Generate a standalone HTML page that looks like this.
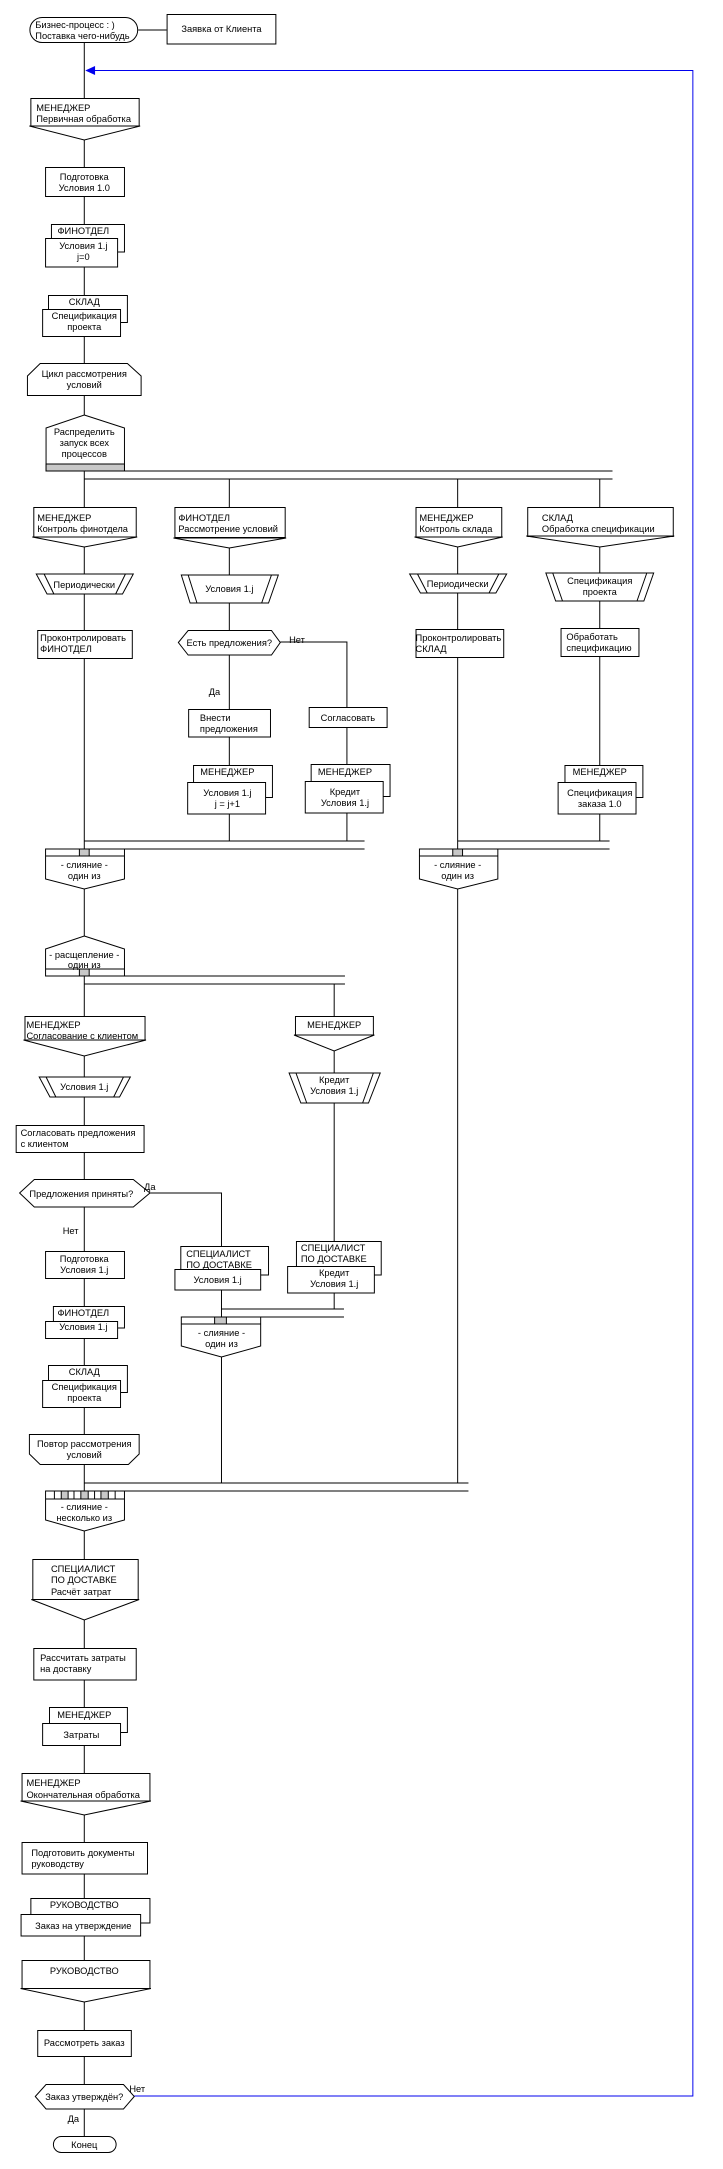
<!DOCTYPE html>
<html><head><meta charset="utf-8"><style>
html,body{margin:0;padding:0;background:#fff}
svg{display:block}
text{font-family:"Liberation Sans","DejaVu Sans",sans-serif;font-size:9.5px;fill:#000}
</style></head><body>
<svg width="723" height="2169" viewBox="0 0 723 2169" xmlns="http://www.w3.org/2000/svg">
<g transform="scale(0.98,1)">
<g stroke="#000" stroke-width="1" fill="none">
<line x1="86" y1="43" x2="86" y2="2136"/>
<line x1="141" y1="30" x2="170" y2="30"/>
<line x1="234" y1="479" x2="234" y2="841"/>
<polyline points="286,642 354,642 354,841"/>
<line x1="467" y1="479" x2="467" y2="1483"/>
<line x1="612" y1="479" x2="612" y2="841"/>
<line x1="341" y1="984" x2="341" y2="1309"/>
<polyline points="153,1193 226,1193 226,1483"/>
<line x1="47" y1="471" x2="625" y2="471"/>
<line x1="86" y1="479" x2="625" y2="479"/>
<line x1="86" y1="841" x2="372" y2="841"/>
<line x1="47" y1="849" x2="372" y2="849"/>
<line x1="467" y1="841" x2="622" y2="841"/>
<line x1="428" y1="849" x2="622" y2="849"/>
<line x1="47" y1="976" x2="352" y2="976"/>
<line x1="86" y1="984" x2="352" y2="984"/>
<line x1="226" y1="1309" x2="351" y2="1309"/>
<line x1="185" y1="1317" x2="351" y2="1317"/>
<line x1="86" y1="1483" x2="478" y2="1483"/>
<line x1="47" y1="1491" x2="478" y2="1491"/>
</g>
<g stroke="#0000ee" stroke-width="1" fill="none">
<polyline points="137,2096 707,2096 707,70.5 90,70.5"/>
</g>
<polygon points="87,70.5 97,66 97,75" fill="#0000ee"/>

<g stroke="#000" stroke-width="1" fill="#fff">
<rect x="30.5" y="17.5" width="110" height="25" rx="12.5"/>
<rect x="170.5" y="14.5" width="111" height="29.5"/>
<rect x="31.5" y="98.5" width="110.5" height="27.5"/>
<polygon points="30,126 143,126 86,140" />
<rect x="46.5" y="167.5" width="80.5" height="29"/>
<rect x="52.5" y="224.5" width="74.5" height="27.5"/>
<rect x="46.5" y="238.5" width="73.5" height="28.5"/>
<rect x="49.5" y="295.5" width="80.5" height="27"/>
<rect x="43.5" y="309.5" width="79.5" height="27"/>
<polygon points="41,363.5 130,363.5 144,376 144,395.5 28,395.5 28,376"/>
<polygon points="86,415 127,428 127,471 47,471 47,428"/>
<rect x="47" y="464" width="80" height="7" fill="#c8c8c8"/>
<rect x="34.5" y="507.5" width="104.5" height="29.5"/>
<polygon points="33,537 140,537 86,547"/>
<rect x="178.5" y="507.5" width="112.5" height="30"/>
<polygon points="177,538 292,538 234,548"/>
<rect x="424.5" y="507.5" width="87.5" height="29.5"/>
<polygon points="423,537 513,537 467,547"/>
<rect x="538.5" y="507.5" width="148.5" height="29"/>
<polygon points="537,536 688,536 612,547"/>
<polygon points="37,574 136,574 125,594 48,594"/>
<polygon points="185,575 284,575 274,603 194,603"/>
<polygon points="418,574 517,574 506,593 429,593"/>
<polygon points="557,573 667,573 657,601 567,601"/>
<rect x="38.5" y="630.5" width="96.5" height="28"/>
<polygon points="182,642.5 192,630.5 277,630.5 286,642.5 277,655 192,655"/>
<rect x="424.5" y="629.5" width="89.5" height="28"/>
<rect x="572.5" y="628.5" width="79.5" height="28"/>
<rect x="192.5" y="709.5" width="83.5" height="27.5"/>
<rect x="315.5" y="707.5" width="79.5" height="20"/>
<rect x="197.5" y="765.5" width="80.5" height="32"/>
<rect x="191.5" y="782.5" width="79.5" height="31.5"/>
<rect x="317.5" y="764.5" width="80.5" height="32"/>
<rect x="311.5" y="781.5" width="79.5" height="31.5"/>
<rect x="576.5" y="765.5" width="79.5" height="32"/>
<rect x="569.5" y="782.5" width="79.5" height="31.5"/>
<polygon points="46.5,849 127,849 127,879 86,889 46.5,879"/>
<line x1="46.5" y1="856" x2="127" y2="856"/>
<rect x="81" y="849" width="10" height="7" fill="#c8c8c8"/>
<polygon points="428,849 508,849 508,879 467,889 428,879"/>
<line x1="428" y1="856" x2="508" y2="856"/>
<rect x="462" y="849" width="10" height="7" fill="#c8c8c8"/>
<polygon points="86,936 127,949 127,976 46.5,976 46.5,949"/>
<line x1="46.5" y1="969" x2="127" y2="969"/>
<rect x="81" y="969" width="10" height="7" fill="#c8c8c8"/>
<rect x="25.5" y="1016.5" width="122.5" height="23.5"/>
<polygon points="24,1040 149,1040 86,1056"/>
<rect x="301.5" y="1016.5" width="79.5" height="18.5"/>
<polygon points="300,1035 382,1035 341,1051"/>
<polygon points="40,1077 133,1077 122,1097 51,1097"/>
<polygon points="295,1073 388,1073 376,1103 307,1103"/>
<rect x="16.5" y="1125.5" width="130.5" height="27"/>
<polygon points="20,1193 35,1179.5 136,1179.5 153,1193 136,1207 35,1207"/>
<rect x="46.5" y="1251.5" width="80.5" height="27"/>
<rect x="184.5" y="1246.5" width="89.5" height="28.5"/>
<rect x="178.5" y="1269.5" width="87.5" height="20.5"/>
<rect x="302.5" y="1241.5" width="86.5" height="33.5"/>
<rect x="293.5" y="1266.5" width="88.5" height="26.5"/>
<polygon points="185,1317 266,1317 266,1346 226,1357 185,1346"/>
<line x1="185" y1="1324" x2="266" y2="1324"/>
<rect x="219" y="1317" width="12" height="7" fill="#c8c8c8"/>
<rect x="54.5" y="1306.5" width="72.5" height="21.5"/>
<rect x="46.5" y="1321.5" width="73.5" height="17"/>
<rect x="49.5" y="1365.5" width="80.5" height="27"/>
<rect x="43.5" y="1380.5" width="79.5" height="27"/>
<polygon points="30,1434.5 142,1434.5 142,1454 131,1464.5 41,1464.5 30,1454"/>
<polygon points="46.5,1491 127,1491 127,1520 86,1531 46.5,1520"/>
<line x1="46.5" y1="1499" x2="127" y2="1499"/>
<rect x="62.5" y="1491" width="7" height="8" fill="#c8c8c8"/>
<rect x="82.5" y="1491" width="7.5" height="8" fill="#c8c8c8"/>
<rect x="103" y="1491" width="7.5" height="8" fill="#c8c8c8"/>
<line x1="55.5" y1="1491" x2="55.5" y2="1499"/>
<line x1="75.5" y1="1491" x2="75.5" y2="1499"/>
<line x1="96.5" y1="1491" x2="96.5" y2="1499"/>
<line x1="117.5" y1="1491" x2="117.5" y2="1499"/>
<rect x="33.5" y="1559.5" width="107.5" height="40"/>
<polygon points="32,1599.5 142,1599.5 86,1620"/>
<rect x="34.5" y="1648.5" width="104.5" height="31.5"/>
<rect x="50.5" y="1707.5" width="79.5" height="25"/>
<rect x="43.5" y="1723.5" width="79.5" height="22"/>
<rect x="22.5" y="1773.5" width="130.5" height="27.5"/>
<polygon points="21,1801 154,1801 86,1815"/>
<rect x="22.5" y="1842.5" width="128" height="31.5"/>
<rect x="31.5" y="1898.5" width="121.5" height="24.5"/>
<rect x="21.5" y="1914.5" width="122" height="21.5"/>
<rect x="22.5" y="1960.5" width="130.5" height="28"/>
<polygon points="21,1988.5 154,1988.5 86,2002"/>
<rect x="38.5" y="2030.5" width="95.5" height="26"/>
<polygon points="36,2096.5 47,2084.5 126,2084.5 137,2096.5 126,2109 47,2109"/>
<rect x="54.5" y="2136.5" width="64" height="16" rx="8"/>
</g>
<g stroke="#000" stroke-width="1" fill="none">
<line x1="45" y1="574" x2="55" y2="594"/><line x1="128" y1="574" x2="118" y2="594"/>
<line x1="192" y1="575" x2="201" y2="603"/><line x1="277" y1="575" x2="267" y2="603"/>
<line x1="426" y1="574" x2="436" y2="593"/><line x1="509" y1="574" x2="499" y2="593"/>
<line x1="564" y1="573" x2="574" y2="601"/><line x1="660" y1="573" x2="650" y2="601"/>
<line x1="47" y1="1077" x2="57" y2="1097"/><line x1="126" y1="1077" x2="116" y2="1097"/>
<line x1="302" y1="1073" x2="313" y2="1103"/><line x1="381" y1="1073" x2="370" y2="1103"/>
</g>

<text x="36" y="28">Бизнес-процесс : )</text>
<text x="36" y="39">Поставка чего-нибудь</text>
<text x="226" y="32" text-anchor="middle">Заявка от Клиента</text>
<text x="37" y="111">МЕНЕДЖЕР</text>
<text x="37" y="122">Первичная обработка</text>
<text x="86" y="180" text-anchor="middle">Подготовка</text>
<text x="86" y="191" text-anchor="middle">Условия 1.0</text>
<text x="85" y="234" text-anchor="middle">ФИНОТДЕЛ</text>
<text x="85" y="249" text-anchor="middle">Условия 1.j</text>
<text x="85" y="260" text-anchor="middle">j=0</text>
<text x="86" y="305" text-anchor="middle">СКЛАД</text>
<text x="86" y="319" text-anchor="middle">Спецификация</text>
<text x="86" y="330" text-anchor="middle">проекта</text>
<text x="86" y="377" text-anchor="middle">Цикл рассмотрения</text>
<text x="86" y="388" text-anchor="middle">условий</text>
<text x="86" y="435" text-anchor="middle">Распределить</text>
<text x="86" y="446" text-anchor="middle">запуск всех</text>
<text x="86" y="457" text-anchor="middle">процессов</text>
<text x="38" y="521">МЕНЕДЖЕР</text>
<text x="38" y="532">Контроль финотдела</text>
<text x="182" y="521">ФИНОТДЕЛ</text>
<text x="182" y="532">Рассмотрение условий</text>
<text x="428" y="521">МЕНЕДЖЕР</text>
<text x="428" y="532">Контроль склада</text>
<text x="553" y="521">СКЛАД</text>
<text x="553" y="532">Обработка спецификации</text>
<text x="86" y="588" text-anchor="middle">Периодически</text>
<text x="234" y="592" text-anchor="middle">Условия 1.j</text>
<text x="467" y="587" text-anchor="middle">Периодически</text>
<text x="612" y="584" text-anchor="middle">Спецификация</text>
<text x="612" y="595" text-anchor="middle">проекта</text>
<text x="41" y="641">Проконтролировать</text>
<text x="41" y="652">ФИНОТДЕЛ</text>
<text x="234" y="646" text-anchor="middle">Есть предложения?</text>
<text x="295" y="643">Нет</text>
<text x="424" y="641">Проконтролировать</text>
<text x="424" y="652">СКЛАД</text>
<text x="578" y="640">Обработать</text>
<text x="578" y="651">спецификацию</text>
<text x="213" y="695">Да</text>
<text x="204" y="721">Внести</text>
<text x="204" y="732">предложения</text>
<text x="355" y="721" text-anchor="middle">Согласовать</text>
<text x="232" y="775" text-anchor="middle">МЕНЕДЖЕР</text>
<text x="232" y="796" text-anchor="middle">Условия 1.j</text>
<text x="232" y="807" text-anchor="middle">j = j+1</text>
<text x="352" y="775" text-anchor="middle">МЕНЕДЖЕР</text>
<text x="352" y="795" text-anchor="middle">Кредит</text>
<text x="352" y="806" text-anchor="middle">Условия 1.j</text>
<text x="612" y="775" text-anchor="middle">МЕНЕДЖЕР</text>
<text x="612" y="796" text-anchor="middle">Спецификация</text>
<text x="612" y="807" text-anchor="middle">заказа 1.0</text>
<text x="86" y="868" text-anchor="middle">- слияние -</text>
<text x="86" y="879" text-anchor="middle">один из</text>
<text x="467" y="868" text-anchor="middle">- слияние -</text>
<text x="467" y="879" text-anchor="middle">один из</text>
<text x="86" y="958" text-anchor="middle">- расщепление -</text>
<text x="86" y="968" text-anchor="middle">один из</text>
<text x="27" y="1028">МЕНЕДЖЕР</text>
<text x="27" y="1039">Согласование с клиентом</text>
<text x="341" y="1028" text-anchor="middle">МЕНЕДЖЕР</text>
<text x="86" y="1090" text-anchor="middle">Условия 1.j</text>
<text x="341" y="1083" text-anchor="middle">Кредит</text>
<text x="341" y="1094" text-anchor="middle">Условия 1.j</text>
<text x="21" y="1136">Согласовать предложения</text>
<text x="21" y="1147">с клиентом</text>
<text x="83" y="1197" text-anchor="middle">Предложения приняты?</text>
<text x="147" y="1190">Да</text>
<text x="64" y="1234">Нет</text>
<text x="86" y="1262" text-anchor="middle">Подготовка</text>
<text x="86" y="1273" text-anchor="middle">Условия 1.j</text>
<text x="190" y="1257">СПЕЦИАЛИСТ</text>
<text x="190" y="1268">ПО ДОСТАВКЕ</text>
<text x="222" y="1283" text-anchor="middle">Условия 1.j</text>
<text x="307" y="1251">СПЕЦИАЛИСТ</text>
<text x="307" y="1262">ПО ДОСТАВКЕ</text>
<text x="341" y="1276" text-anchor="middle">Кредит</text>
<text x="341" y="1287" text-anchor="middle">Условия 1.j</text>
<text x="85" y="1316" text-anchor="middle">ФИНОТДЕЛ</text>
<text x="85" y="1330" text-anchor="middle">Условия 1.j</text>
<text x="226" y="1336" text-anchor="middle">- слияние -</text>
<text x="226" y="1347" text-anchor="middle">один из</text>
<text x="86" y="1375" text-anchor="middle">СКЛАД</text>
<text x="86" y="1390" text-anchor="middle">Спецификация</text>
<text x="86" y="1401" text-anchor="middle">проекта</text>
<text x="86" y="1447" text-anchor="middle">Повтор рассмотрения</text>
<text x="86" y="1458" text-anchor="middle">условий</text>
<text x="86" y="1510" text-anchor="middle">- слияние -</text>
<text x="86" y="1521" text-anchor="middle">несколько из</text>
<text x="52" y="1572">СПЕЦИАЛИСТ</text>
<text x="52" y="1583">ПО ДОСТАВКЕ</text>
<text x="52" y="1595">Расчёт затрат</text>
<text x="41" y="1661">Рассчитать затраты</text>
<text x="41" y="1672">на доставку</text>
<text x="86" y="1718" text-anchor="middle">МЕНЕДЖЕР</text>
<text x="83" y="1738" text-anchor="middle">Затраты</text>
<text x="27" y="1786">МЕНЕДЖЕР</text>
<text x="27" y="1798">Окончательная обработка</text>
<text x="32" y="1856">Подготовить документы</text>
<text x="32" y="1867">руководству</text>
<text x="86" y="1908" text-anchor="middle">РУКОВОДСТВО</text>
<text x="85" y="1929" text-anchor="middle">Заказ на утверждение</text>
<text x="86" y="1974" text-anchor="middle">РУКОВОДСТВО</text>
<text x="86" y="2046" text-anchor="middle">Рассмотреть заказ</text>
<text x="86" y="2100" text-anchor="middle">Заказ утверждён?</text>
<text x="132" y="2092">Нет</text>
<text x="69" y="2122">Да</text>
<text x="86" y="2148" text-anchor="middle">Конец</text>
</g>
</svg>
</body></html>
